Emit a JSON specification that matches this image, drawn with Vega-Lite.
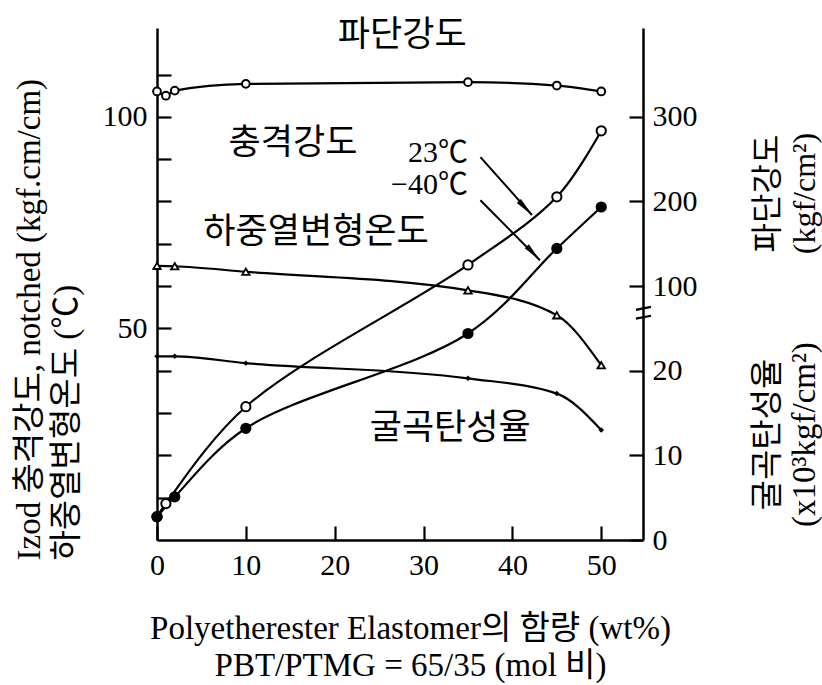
{
  "$schema": "https://vega.github.io/schema/vega-lite/v6.json",
  "width": 486,
  "height": 512,
  "autosize": {"type": "none"},
  "padding": {"left": 157, "top": 28, "right": 179, "bottom": 145},
  "background": "white",
  "config": {
    "view": {"stroke": null},
    "font": "Liberation Serif, Noto Sans CJK KR",
    "axis": {
      "grid": false,
      "domainColor": "black",
      "domainWidth": 2.5,
      "tickColor": "black",
      "tickWidth": 2.2,
      "tickSize": -14,
      "labelFont": "Liberation Serif",
      "labelFontSize": 30,
      "labelColor": "black",
      "labelFlush": false,
      "labelOverlap": false,
      "titleFont": "Liberation Serif, Noto Sans CJK KR",
      "titleFontSize": 32,
      "titleFontWeight": "normal",
      "titleColor": "black"
    },
    "text": {"font": "Liberation Serif, Noto Sans CJK KR", "color": "black"}
  },
  "datasets": {
    "impact": [
      {"temp": "23℃", "pct": 0, "izod": 5.5},
      {"temp": "23℃", "pct": 1, "izod": 8.6},
      {"temp": "23℃", "pct": 10, "izod": 31.5},
      {"temp": "23℃", "pct": 35, "izod": 65.0},
      {"temp": "23℃", "pct": 45, "izod": 81.1},
      {"temp": "23℃", "pct": 50, "izod": 96.7},
      {"temp": "−40℃", "pct": 0, "izod": 5.5},
      {"temp": "−40℃", "pct": 2, "izod": 10.2},
      {"temp": "−40℃", "pct": 10, "izod": 26.4},
      {"temp": "−40℃", "pct": 35, "izod": 48.8},
      {"temp": "−40℃", "pct": 45, "izod": 68.9},
      {"temp": "−40℃", "pct": 50, "izod": 78.7}
    ],
    "hdt": [
      {"pct": 0, "hdt": 64.8},
      {"pct": 2, "hdt": 64.7},
      {"pct": 10, "hdt": 63.4},
      {"pct": 35, "hdt": 59.0},
      {"pct": 45, "hdt": 53.1},
      {"pct": 50, "hdt": 41.3}
    ],
    "tensile": [
      {"pct": 0, "tensile": 330},
      {"pct": 1, "tensile": 325},
      {"pct": 2, "tensile": 331},
      {"pct": 10, "tensile": 339},
      {"pct": 35, "tensile": 341},
      {"pct": 45, "tensile": 337},
      {"pct": 50, "tensile": 330}
    ],
    "flexural": [
      {"pct": 0, "modulus": 21.7},
      {"pct": 2, "modulus": 21.7},
      {"pct": 10, "modulus": 20.9},
      {"pct": 35, "modulus": 19.1},
      {"pct": 45, "modulus": 17.3},
      {"pct": 50, "modulus": 13.0}
    ],
    "labels": [
      {"label": "파단강도", "pct": 27.6, "y": 119.3},
      {"label": "충격강도", "pct": 15.3, "y": 93.8},
      {"label": "하중열변형온도", "pct": 17.9, "y": 72.7},
      {"label": "굴곡탄성율", "pct": 33.0, "y": 26.5}
    ],
    "temps": [
      {"label": "23℃", "pct": 35.0, "y": 91.4},
      {"label": "−40℃", "pct": 35.0, "y": 83.9}
    ],
    "arrows": [
      {"temp": "23℃", "part": "start", "pct": 36.4, "y": 90.5},
      {"temp": "23℃", "part": "end", "pct": 42.2, "y": 76.8},
      {"temp": "−40℃", "part": "start", "pct": 36.4, "y": 80.3},
      {"temp": "−40℃", "part": "end", "pct": 43.1, "y": 66.1}
    ],
    "breaks": [
      {"pct": 53.9, "pct2": 55.6, "y": 54.4, "y2": 55.1},
      {"pct": 53.9, "pct2": 55.6, "y": 52.3, "y2": 53.0}
    ]
  },
  "encoding": {
    "x": {
      "field": "pct",
      "type": "quantitative",
      "scale": {"domain": [0, 54.7], "nice": false, "zero": false},
      "axis": {
        "values": [0, 10, 20, 30, 40, 50],
        "labelPadding": 24,
        "title": ["Polyetherester Elastomer의 함량 (wt%)", "PBT/PTMG = 65/35 (mol 비)"],
        "titleFontSize": 33,
        "titleX": 253,
        "titleY": 98,
        "titleAlign": "center",
        "titleBaseline": "alphabetic",
        "titleLineHeight": 37
      }
    }
  },
  "resolve": {"scale": {"y": "independent"}},
  "layer": [
    {
      "data": {"name": "impact"},
      "mark": {"type": "line", "interpolate": "catmull-rom", "color": "black", "strokeWidth": 2.2},
      "encoding": {
        "y": {
          "field": "izod",
          "type": "quantitative",
          "scale": {"domain": [0, 121], "nice": false, "zero": false},
          "axis": {
            "orient": "left",
            "values": [10, 20, 30, 40, 50, 60, 70, 80, 90, 100, 110],
            "labelExpr": "datum.value == 50 || datum.value == 100 ? datum.label : ''",
            "labelPadding": 24,
            "title": ["Izod 충격강도, notched (kgf.cm/cm)", "하중열변형온도 (℃)"],
            "titleFontSize": 33,
            "titleAngle": 270,
            "titleAlign": "left",
            "titleBaseline": "alphabetic",
            "titleX": -118,
            "titleY": 532,
            "titleLineHeight": 37
          }
        },
        "detail": {"field": "temp"}
      }
    },
    {
      "data": {"name": "tensile"},
      "mark": {"type": "line", "interpolate": "monotone", "color": "black", "strokeWidth": 2.2},
      "encoding": {
        "y": {
          "field": "tensile",
          "type": "quantitative",
          "scale": {"domain": [-200, 405], "nice": false, "zero": false},
          "axis": {
            "orient": "right",
            "values": [100, 200, 300],
            "labelPadding": 23,
            "domain": true,
            "title": ["파단강도", "(kgf/cm²)"],
            "titleAngle": 270,
            "titleAlign": "center",
            "titleBaseline": "alphabetic",
            "titleX": 134,
            "titleY": 165,
            "titleLineHeight": 37
          }
        }
      }
    },
    {
      "data": {"name": "flexural"},
      "mark": {"type": "line", "interpolate": "monotone", "color": "black", "strokeWidth": 2.2},
      "encoding": {
        "y": {
          "field": "modulus",
          "type": "quantitative",
          "scale": {"domain": [0, 60.5], "nice": false, "zero": false},
          "axis": {
            "orient": "right",
            "values": [0, 10, 20],
            "labelPadding": 23,
            "domain": false,
            "title": ["굴곡탄성율", "(x10³kgf/cm²)"],
            "titleFontSize": 33,
            "titleAngle": 270,
            "titleAlign": "center",
            "titleBaseline": "alphabetic",
            "titleX": 134,
            "titleY": 406,
            "titleLineHeight": 37
          }
        }
      }
    },
    {
      "data": {"name": "hdt"},
      "mark": {"type": "line", "interpolate": "monotone", "color": "black", "strokeWidth": 2.2},
      "encoding": {
        "y": {"field": "hdt", "type": "quantitative", "scale": {"domain": [0, 121], "nice": false, "zero": false}, "axis": null}
      }
    },
    {
      "data": {"name": "arrows"},
      "mark": {"type": "line", "color": "black", "strokeWidth": 2},
      "encoding": {
        "y": {"field": "y", "type": "quantitative", "scale": {"domain": [0, 121], "nice": false, "zero": false}, "axis": null},
        "detail": {"field": "temp"}
      }
    },
    {
      "data": {"name": "arrows"},
      "transform": [{"filter": "datum.part == 'end'"}],
      "mark": {"type": "point", "shape": "M0,0L0.35,2.4L-0.35,2.4Z", "filled": true, "color": "black", "opacity": 1, "size": 256, "angle": 137},
      "encoding": {
        "y": {"field": "y", "type": "quantitative", "scale": {"domain": [0, 121], "nice": false, "zero": false}, "axis": null}
      }
    },
    {
      "data": {"name": "tensile"},
      "mark": {"type": "point", "shape": "circle", "filled": true, "fill": "white", "stroke": "black", "strokeWidth": 2, "opacity": 1, "size": 60},
      "encoding": {
        "y": {"field": "tensile", "type": "quantitative", "scale": {"domain": [-200, 405], "nice": false, "zero": false}, "axis": null}
      }
    },
    {
      "data": {"name": "flexural"},
      "mark": {"type": "point", "shape": "diamond", "filled": true, "color": "black", "opacity": 1, "size": 30},
      "encoding": {
        "y": {"field": "modulus", "type": "quantitative", "scale": {"domain": [0, 60.5], "nice": false, "zero": false}, "axis": null}
      }
    },
    {
      "data": {"name": "hdt"},
      "mark": {"type": "point", "shape": "triangle-up", "filled": true, "fill": "white", "stroke": "black", "strokeWidth": 1.8, "opacity": 1, "size": 55},
      "encoding": {
        "y": {"field": "hdt", "type": "quantitative", "scale": {"domain": [0, 121], "nice": false, "zero": false}, "axis": null}
      }
    },
    {
      "data": {"name": "impact"},
      "mark": {"type": "point", "shape": "circle", "filled": true, "stroke": "black", "strokeWidth": 2, "opacity": 1, "size": 85},
      "encoding": {
        "y": {"field": "izod", "type": "quantitative", "scale": {"domain": [0, 121], "nice": false, "zero": false}, "axis": null},
        "fill": {"field": "temp", "type": "nominal", "scale": {"domain": ["23℃", "−40℃"], "range": ["white", "black"]}, "legend": null}
      }
    },
    {
      "mark": {"type": "rule", "color": "white", "strokeWidth": 6},
      "encoding": {
        "x": {"datum": 54.7, "type": "quantitative"},
        "y": {"datum": 53.2, "type": "quantitative", "scale": {"domain": [0, 121], "nice": false, "zero": false}, "axis": null},
        "y2": {"datum": 54.2}
      }
    },
    {
      "data": {"name": "breaks"},
      "mark": {"type": "rule", "color": "black", "strokeWidth": 2.2},
      "encoding": {
        "x2": {"field": "pct2"},
        "y": {"field": "y", "type": "quantitative", "scale": {"domain": [0, 121], "nice": false, "zero": false}, "axis": null},
        "y2": {"field": "y2"}
      }
    },
    {
      "data": {"name": "labels"},
      "mark": {"type": "text", "fontSize": 35, "align": "center", "baseline": "middle"},
      "encoding": {
        "y": {"field": "y", "type": "quantitative", "scale": {"domain": [0, 121], "nice": false, "zero": false}, "axis": null},
        "text": {"field": "label"}
      }
    },
    {
      "data": {"name": "temps"},
      "mark": {"type": "text", "fontSize": 30, "align": "right", "baseline": "middle"},
      "encoding": {
        "y": {"field": "y", "type": "quantitative", "scale": {"domain": [0, 121], "nice": false, "zero": false}, "axis": null},
        "text": {"field": "label"}
      }
    }
  ]
}
